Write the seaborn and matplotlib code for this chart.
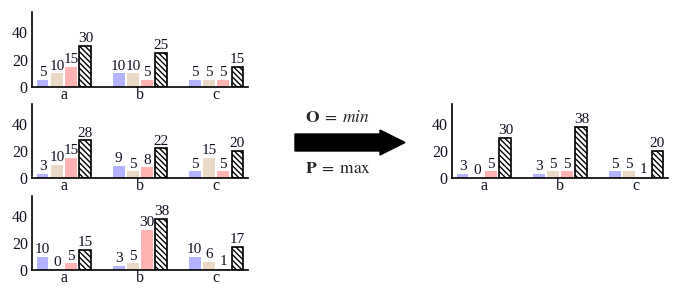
import pandas as pd
import seaborn as sns
import matplotlib.pyplot as plt
from matplotlib.patches import Polygon

# data
categories = ["a", "b", "c"]
series = ["s1", "s2", "s3", "s4"]

panel1 = {"s1": [5, 10, 5], "s2": [10, 10, 5], "s3": [15, 5, 5], "s4": [30, 25, 15]}
panel2 = {"s1": [3, 9, 5], "s2": [10, 5, 15], "s3": [15, 8, 5], "s4": [28, 22, 20]}
panel3 = {"s1": [10, 3, 10], "s2": [0, 5, 6], "s3": [5, 30, 1], "s4": [15, 38, 17]}
result = {"s1": [3, 3, 5], "s2": [0, 5, 5], "s3": [5, 5, 1], "s4": [30, 38, 20]}

colors = ["#b3b3ff", "#ead9c5", "#ffb3b3", "#ffffff"]

sns.set_style("white")
plt.rcParams["font.family"] = ["Liberation Serif", "DejaVu Serif"]
plt.rcParams["mathtext.fontset"] = "stix"
plt.rcParams["hatch.linewidth"] = 1.0

W, H = 674, 294
fig = plt.figure(figsize=(W / 100, H / 100), dpi=100)


def to_long(d):
    rows = []
    for s in series:
        for c, v in zip(categories, d[s]):
            rows.append({"cat": c, "series": s, "value": v})
    return pd.DataFrame(rows)


def draw_panel(d, x0, x1, ytop, ybot):
    ax = fig.add_axes([x0 / W, 1 - ybot / H, (x1 - x0) / W, (ybot - ytop) / H])
    df = to_long(d)
    sns.barplot(data=df, x="cat", y="value", hue="series", palette=colors,
                saturation=1, width=0.75, gap=0.17, legend=False, ax=ax, linewidth=0)
    # hatched last series
    for p in ax.containers[-1]:
        p.set_facecolor("white")
        p.set_edgecolor("black")
        p.set_linewidth(1.2)
        p.set_hatch("\\" * 6)
    for cont in ax.containers:
        ax.bar_label(cont, fmt="%d", padding=0.5, fontsize=11, color="#111122")
    ax.set_ylim(0, 55)
    ax.set_xlim(-0.42, 2.42)
    ax.set_yticks([0, 20, 40])
    ax.set_xlabel("")
    ax.set_ylabel("")
    ax.tick_params(axis="both", length=0, labelsize=11.5, colors="#111122")
    ax.tick_params(axis="x", pad=0)
    ax.tick_params(axis="y", pad=3)
    for side in ["top", "right"]:
        ax.spines[side].set_visible(False)
    for side in ["left", "bottom"]:
        ax.spines[side].set_color("black")
        ax.spines[side].set_linewidth(1.2)
    return ax


draw_panel(panel1, 32, 248, 12, 87)
draw_panel(panel2, 32, 248, 104, 178)
draw_panel(panel3, 32, 248, 196, 270)
draw_panel(result, 452, 668, 104, 178)

# arrow and labels in pixel space
over = fig.add_axes([0, 0, 1, 1])
over.set_xlim(0, W)
over.set_ylim(H, 0)
over.axis("off")
over.patch.set_alpha(0)
arrow = Polygon([[295, 134], [380, 134], [380, 130], [405, 142.5],
                 [380, 155], [380, 151], [295, 151]],
                closed=True, facecolor="black", edgecolor="black")
over.add_patch(arrow)
over.text(338, 118, r"$\mathbf{O}\;=\;\mathit{min}$", fontsize=12.5, ha="center", va="center")
over.text(338, 169, r"$\mathbf{P}\;=\;\mathrm{max}$", fontsize=12.5, ha="center", va="center")

fig.savefig("out.png", dpi=100)
